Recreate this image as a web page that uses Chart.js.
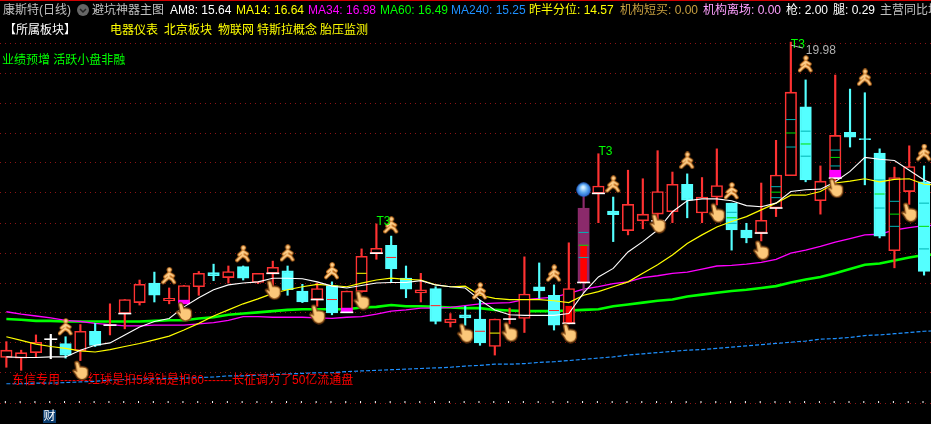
<!DOCTYPE html>
<html>
<head>
<meta charset="utf-8">
<title>康斯特</title>
<script src="https://cdn.jsdelivr.net/npm/chart.js@4"></script>
<style>
  html, body { margin: 0; padding: 0; background: #000; overflow: hidden; }
  #wrap { position: relative; width: 931px; height: 424px; overflow: hidden; font: 12px "Liberation Sans", "Noto Sans CJK SC", sans-serif; }
  #wrap span { position: absolute; white-space: nowrap; line-height: 14px; }
  #topline { position: absolute; left: 0; top: 0; width: 931px; height: 1px; background: #d00000; }
  #chart { position: absolute; left: 0; top: 0; }
  #badge { position: absolute; left: 43px; top: 410px; width: 13px; height: 13px; background: #0a3c6e; color: #fff; line-height: 13px; text-align: center; }
  #arrow { position: absolute; left: 77px; top: 4px; width: 12px; height: 12px; border-radius: 6px; background: #666; }
</style>
</head>
<body>
<div id="wrap">
  <canvas id="chart" width="931" height="424"></canvas>
  <div id="topline"></div>
  <span style="left:3px;top:3px;color:#c0c0c0">康斯特(日线)</span>
  <div id="arrow"><svg width="12" height="12"><path d="M3 5l3 3 3-3" fill="none" stroke="#222" stroke-width="1.5"/></svg></div>
  <span style="left:92px;top:3px;color:#c0c0c0">避坑神器主图</span>
  <span style="left:170px;top:3px;color:#fff">AM8: 15.64</span>
  <span style="left:236px;top:3px;color:#ff0">MA14: 16.64</span>
  <span style="left:308px;top:3px;color:#f0f">MA34: 16.98</span>
  <span style="left:380px;top:3px;color:#0f0">MA60: 16.49</span>
  <span style="left:451px;top:3px;color:#1e90ff">MA240: 15.25</span>
  <span style="left:529px;top:3px;color:#ff0">昨半分位: 14.57</span>
  <span style="left:620px;top:3px;color:#c8a040">机构短买: 0.00</span>
  <span style="left:703px;top:3px;color:#ffa0ff">机构离场: 0.00</span>
  <span style="left:786px;top:3px;color:#fff">枪: 2.00</span>
  <span style="left:833px;top:3px;color:#fff">腿: 0.29</span>
  <span style="left:880px;top:3px;color:#c0c0c0">主营同比增</span>
  <span style="left:4px;top:23px;color:#fff">【所属板块】</span>
  <span style="left:110px;top:23px;color:#ff0">电器仪表</span>
  <span style="left:164px;top:23px;color:#ff0">北京板块</span>
  <span style="left:218px;top:23px;color:#ff0">物联网</span>
  <span style="left:257px;top:23px;color:#ff0">特斯拉概念</span>
  <span style="left:320px;top:23px;color:#ff0">胎压监测</span>
  <span style="left:2px;top:53px;color:#0f0">业绩预增 活跃小盘非融</span>
  <span style="left:12px;top:373px;color:#f00">东信专用-------红球是扣5绿钻是扣60-------长征调为了50亿流通盘</span>
  <div id="badge">财</div>
</div>
<script>
// candles
const opens = [14.81,14.80,14.89,15.11,15.04,14.92,15.24,15.34,15.53,15.71,
  16.03,15.74,15.69,15.97,16.20,16.12,16.30,16.04,16.19,16.23,
  15.90,15.76,15.99,15.55,15.89,16.52,16.65,16.11,15.87,15.94,
  15.38,15.51,15.44,14.99,15.44,15.45,15.97,15.83,15.37,16.04,
  17.50,17.21,16.89,17.05,17.16,17.20,17.65,17.18,17.44,17.34,
  16.90,16.85,17.26,17.79,18.92,17.38,17.75,18.50,18.40,18.16,
  16.56,17.53,17.69];
const closes = [14.93,14.89,15.06,15.11,14.85,15.24,15.01,15.34,15.76,16.01,
  15.83,15.78,15.99,16.19,16.15,16.22,16.11,16.19,16.29,15.92,
  15.72,15.94,15.54,15.90,16.47,16.60,16.26,15.93,15.92,15.40,
  15.44,15.46,15.05,15.44,15.44,15.85,15.90,15.34,15.94,17.26,
  17.62,17.15,17.32,17.16,17.53,17.65,17.39,17.44,17.63,16.90,
  16.77,17.06,17.80,19.16,17.72,17.70,18.45,18.42,18.38,16.80,
  17.76,17.94,16.22];
const highs = [15.07,14.93,15.18,15.19,15.15,15.35,15.37,15.69,15.76,16.08,
  16.21,15.95,15.99,16.22,16.34,16.31,16.31,16.19,16.39,16.31,
  16.01,16.03,16.05,15.90,16.59,17.00,16.80,16.31,16.19,15.97,
  15.53,15.65,15.75,15.44,15.62,16.46,16.36,16.00,16.69,17.51,
  18.15,17.44,17.88,17.74,18.20,17.85,17.82,17.76,18.23,17.34,
  17.01,17.67,18.37,19.98,19.36,17.95,19.44,19.21,19.15,18.23,
  17.93,18.28,17.95];
const lows = [14.65,14.60,14.81,14.79,14.80,14.76,14.99,15.18,15.28,15.67,
  15.72,15.69,15.69,15.83,16.07,16.03,16.08,16.02,15.92,15.83,
  15.71,15.65,15.51,15.55,15.88,16.42,16.05,15.79,15.72,15.36,
  15.31,15.34,15.01,14.85,15.36,15.22,15.78,15.26,15.36,15.87,
  17.02,16.71,16.82,16.92,17.03,17.02,17.10,17.02,17.31,16.57,
  16.69,16.72,17.12,17.79,17.69,17.16,17.47,18.26,17.64,16.77,
  16.28,17.32,16.16];

// moving averages, one extra point runs off the right edge
const am8 = [14.82,14.81,14.81,14.82,14.82,14.93,15.01,15.05,15.18,15.31,
  15.40,15.45,15.64,15.79,15.92,16.00,16.03,16.05,16.11,16.11,
  16.10,16.05,15.98,15.95,15.99,16.03,16.04,16.04,16.07,16.00,
  15.97,15.95,15.75,15.59,15.51,15.50,15.50,15.50,15.53,15.87,
  16.13,16.27,16.54,16.71,16.90,17.20,17.38,17.41,17.41,17.38,
  17.30,17.28,17.34,17.53,17.56,17.57,17.69,17.86,18.09,18.06,
  18.04,17.88,17.72,17.62];
const ma14 = [15.15,15.09,15.03,14.99,14.96,14.92,14.90,14.94,14.99,15.04,
  15.10,15.16,15.26,15.37,15.49,15.59,15.69,15.77,15.86,15.92,
  15.97,16.01,15.99,15.97,16.03,16.08,16.11,16.09,16.08,16.00,
  15.97,15.98,15.83,15.78,15.76,15.76,15.76,15.74,15.71,15.83,
  15.89,15.97,16.05,16.19,16.33,16.49,16.68,16.82,16.95,17.04,
  17.12,17.23,17.34,17.47,17.47,17.53,17.67,17.70,17.74,17.69,
  17.73,17.74,17.65,17.64];
const ma34 = [15.56,15.52,15.49,15.46,15.42,15.40,15.37,15.35,15.33,15.33,
  15.34,15.34,15.34,15.36,15.38,15.42,15.48,15.48,15.47,15.47,
  15.47,15.46,15.45,15.47,15.48,15.52,15.57,15.59,15.62,15.62,
  15.63,15.66,15.69,15.70,15.71,15.76,15.78,15.80,15.86,15.93,
  15.97,16.02,16.05,16.12,16.15,16.19,16.21,16.26,16.31,16.32,
  16.34,16.37,16.42,16.52,16.57,16.63,16.70,16.76,16.82,16.83,
  16.90,16.94,16.97,16.98];
const ma60 = [15.44,15.43,15.41,15.41,15.40,15.40,15.40,15.40,15.40,15.40,
  15.41,15.42,15.42,15.45,15.47,15.51,15.53,15.55,15.57,15.59,
  15.60,15.60,15.60,15.60,15.63,15.64,15.67,15.65,15.65,15.64,
  15.63,15.62,15.62,15.59,15.58,15.57,15.57,15.57,15.58,15.59,
  15.60,15.65,15.68,15.71,15.74,15.76,15.81,15.84,15.87,15.90,
  15.92,15.95,15.98,16.04,16.09,16.13,16.19,16.26,16.33,16.35,
  16.40,16.45,16.49,16.50];
const ma240 = [14.38,14.38,14.39,14.39,14.40,14.41,14.42,14.44,14.45,14.46,
  14.46,14.47,14.47,14.48,14.49,14.51,14.51,14.52,14.53,14.54,
  14.55,14.56,14.56,14.58,14.59,14.60,14.61,14.62,14.63,14.64,
  14.65,14.67,14.68,14.70,14.70,14.71,14.73,14.74,14.76,14.78,
  14.80,14.82,14.85,14.87,14.89,14.91,14.93,14.94,14.96,14.98,
  15.00,15.02,15.04,15.06,15.08,15.11,15.12,15.14,15.17,15.18,
  15.20,15.22,15.24,15.25];

// dotted price lines
const gridPrices = [19.95,19.46,18.97,18.48,18.00,17.51,17.01,16.52,16.03,15.54,15.05,14.56,14.06];

// marks on the candles: [day, price]
const whiteBases = [[3,15.11],[7,15.34],[8,15.53],[18,16.19],[21,15.76],[23,15.55],[25,16.52],[34,15.44],[38,15.37],[39,16.04],[40,17.50],[44,17.05],[51,16.85],[52,17.26],[56,17.75]];
const tealMarks = [[39,16.86],[39,16.45],[53,18.71],[53,18.26],[54,18.52],[54,18.11],[52,17.61],[52,17.43],[49,17.19],[49,17.01],[56,18.21],[56,17.95],[59,17.72],[59,17.26],[60,17.37],[60,16.96],[62,17.34],[62,16.59]];
const greenMarks = [[39,16.65],[53,18.49],[54,18.31],[52,17.52],[49,17.10],[56,18.09],[59,17.49],[60,17.16],[62,16.96]];
const redMarks = [[22,15.76],[26,16.45],[29,15.66],[32,15.24],[37,15.58]];
const yellowMarks = [[24,16.19],[33,15.21]];
const magentaFills = [[12,15.69,15.75],[23,15.56,15.62],[56,17.75,17.88]];
const redFills = [[38,15.38,15.65],[39,16.05,16.64]];

const handDays = [[5,14.60],[12,15.56],[18,15.92],[21,15.52],[24,15.75],[31,15.21],[34,15.23],[38,15.21],[44,17.01],[48,17.18],[51,16.57],[56,17.59],[61,17.19]];
const runnerDays = [[4,15.31],[11,16.15],[16,16.51],[19,16.52],[22,16.23],[26,16.98],[32,15.90],[37,16.19],[41,17.65],[46,18.04],[49,17.54],[54,19.62],[58,19.40],[62,18.17]];
const ballDays = [[39,17.56]];
const t3Days = [[40,18.18],[25,17.03],[53,19.93]];
const bottomTickPrice = 14.08;

const RED = '#ff3232', CYAN = '#54ffff', PURPLE = '#8b2a6b', WHITE = '#ffffff';
const days = opens.map((v, i) => i);
const isUp = i => closes[i] >= opens[i];
const isDoji = i => closes[i] === opens[i];
const toPoints = list => list.map(p => ({ x: p[0], y: p[1] }));
const lineData = list => list.map((v, i) => ({ x: i, y: v }));

function makeIcon(w, h, draw) {
  const c = document.createElement('canvas');
  c.width = w; c.height = h;
  draw(c.getContext('2d'));
  return c;
}

const handIcon = makeIcon(18, 21, ctx => {
  ctx.beginPath();
  ctx.moveTo(3.5, 2.5);
  ctx.quadraticCurveTo(5.5, 0.5, 7.5, 2.5);
  ctx.lineTo(9, 7);
  ctx.quadraticCurveTo(15.5, 6.5, 16.5, 10);
  ctx.lineTo(16.5, 15);
  ctx.quadraticCurveTo(15, 20, 10, 19.8);
  ctx.quadraticCurveTo(6, 19, 4.5, 15);
  ctx.lineTo(1.5, 11);
  ctx.quadraticCurveTo(2.5, 9, 5, 11);
  ctx.closePath();
  ctx.fillStyle = '#fcc87a';
  ctx.fill();
  ctx.strokeStyle = '#7a4010';
  ctx.lineWidth = 1.3;
  ctx.stroke();
});

const runnerIcon = makeIcon(16, 18, ctx => {
  const limbs = () => {
    ctx.beginPath();
    ctx.moveTo(8, 6); ctx.lineTo(7.5, 10.5);
    ctx.moveTo(8, 6.5); ctx.lineTo(4, 10);
    ctx.moveTo(8, 6.5); ctx.lineTo(12, 9);
    ctx.moveTo(7.5, 10.5); ctx.lineTo(4.5, 13); ctx.lineTo(2, 15.5);
    ctx.moveTo(7.5, 10.5); ctx.lineTo(11, 12.5); ctx.lineTo(13, 15.5);
    ctx.stroke();
  };
  ctx.lineCap = 'round';
  ctx.strokeStyle = '#c06c1c'; ctx.lineWidth = 3.8; limbs();
  ctx.strokeStyle = '#ffd08c'; ctx.lineWidth = 1.8; limbs();
  ctx.beginPath(); ctx.arc(8.2, 3, 2.3, 0, Math.PI * 2);
  ctx.fillStyle = '#ffd08c'; ctx.fill();
  ctx.strokeStyle = '#c06c1c'; ctx.lineWidth = 1; ctx.stroke();
});

const ballIcon = makeIcon(15, 15, ctx => {
  const g = ctx.createRadialGradient(7, 5, 1, 7.5, 7.5, 7.5);
  g.addColorStop(0, '#d8f0ff');
  g.addColorStop(0.5, '#5aa8f0');
  g.addColorStop(1, '#1f58c8');
  ctx.beginPath(); ctx.arc(7.5, 7.5, 7.2, 0, Math.PI * 2);
  ctx.fillStyle = g; ctx.fill();
});

const markSet = (list, color, width, radius) => ({
  type: 'scatter', data: toPoints(list), order: 3,
  pointStyle: 'line', pointRadius: radius, pointBorderColor: color, pointBorderWidth: width, pointBackgroundColor: color
});
const iconSet = (list, icon) => ({
  type: 'scatter', data: toPoints(list), order: 0, pointStyle: icon, pointRadius: 8
});
const maSet = (list, color, width, order, dash) => ({
  type: 'line', data: lineData(list), borderColor: color, borderWidth: width, pointRadius: 0,
  tension: 0, order: order, borderDash: dash || [], spanGaps: true
});
const fillSet = (list, color, thickness) => ({
  type: 'bar', data: list.map(f => ({ x: f[0], y: [f[1], f[2]] })), backgroundColor: color,
  barThickness: thickness, grouped: false, order: 4
});

const wickColor = i => i === 39 ? PURPLE : i === 3 ? WHITE : isUp(i) ? RED : CYAN;
const bodyBorder = i => i === 39 ? PURPLE : isUp(i) ? RED : CYAN;
const bodyFill = i => i === 39 ? PURPLE : isUp(i) ? '#000000' : CYAN;

// text that hangs off the candles
const labelPlugin = {
  id: 'labelPlugin',
  afterDatasetsDraw(chart) {
    const { ctx, scales: { x, y } } = chart;
    ctx.save();
    ctx.font = '12px "Liberation Sans", sans-serif';
    ctx.textBaseline = 'middle';
    ctx.fillStyle = '#00ff00';
    t3Days.forEach(p => ctx.fillText('T3', x.getPixelForValue(p[0]), y.getPixelForValue(p[1])));
    const px = x.getPixelForValue(53), py = y.getPixelForValue(highs[53]);
    ctx.strokeStyle = '#b0b0b0';
    ctx.beginPath();
    ctx.moveTo(px, py + 3); ctx.lineTo(px + 12, py + 6);
    ctx.stroke();
    ctx.fillStyle = '#b0b0b0';
    ctx.fillText('19.98', px + 15, py + 9);
    ctx.restore();
  }
};

new Chart(document.getElementById('chart'), {
  type: 'bar',
  data: {
    datasets: [
      maSet(ma240, '#1e90ff', 1.2, 7, [4, 2]),
      maSet(ma34, '#ff00ff', 1.3, 7),
      maSet(ma60, '#00ff00', 2.6, 7),
      {
        type: 'bar', data: days.map(i => ({ x: i, y: [lows[i], highs[i]] })),
        backgroundColor: days.map(wickColor), barThickness: 1.5, grouped: false, order: 6
      },
      {
        type: 'bar', data: days.map(i => ({ x: i, y: isDoji(i) ? null : [opens[i], closes[i]] })),
        backgroundColor: days.map(bodyFill), borderColor: days.map(bodyBorder), borderWidth: 1.6,
        borderSkipped: false, barThickness: 11.5, grouped: false, order: 5
      },
      fillSet(magentaFills, '#ff00ff', 11),
      fillSet(redFills, '#ff0000', 6),
      markSet(tealMarks, '#00b4b4', 1, 5),
      markSet(greenMarks, '#00e000', 1, 5),
      markSet(redMarks, '#ff2020', 1, 5),
      markSet(yellowMarks, '#ffff00', 1, 5),
      markSet(whiteBases, WHITE, 1.6, 6.5),
      maSet(am8, WHITE, 1.1, 2),
      maSet(ma14, '#ffff00', 1.2, 2),
      iconSet(handDays, handIcon),
      iconSet(runnerDays, runnerIcon),
      iconSet(ballDays, ballIcon),
      {
        type: 'scatter', data: days.map(i => ({ x: i - 0.07, y: bottomTickPrice })), order: 1,
        pointStyle: 'line', rotation: 90, pointRadius: 1, pointBorderColor: WHITE, pointBorderWidth: 1
      }
    ]
  },
  options: {
    responsive: false,
    animation: false,
    events: [],
    layout: { padding: 0, autoPadding: false },
    plugins: { legend: { display: false }, tooltip: { enabled: false } },
    scales: {
      x: {
        type: 'linear', min: -0.43, max: 62.47, offset: false,
        ticks: { display: false }, grid: { display: false, drawTicks: false }, border: { display: false }
      },
      y: {
        min: 13.72, max: 20.67,
        afterBuildTicks: scale => { scale.ticks = gridPrices.map(v => ({ value: v })); },
        ticks: { display: false },
        grid: { color: '#8c1414', lineWidth: 1, drawTicks: false, tickLength: 0 },
        border: { display: false, dash: [1, 4] }
      }
    }
  },
  plugins: [labelPlugin]
});
</script>
</body>
</html>
